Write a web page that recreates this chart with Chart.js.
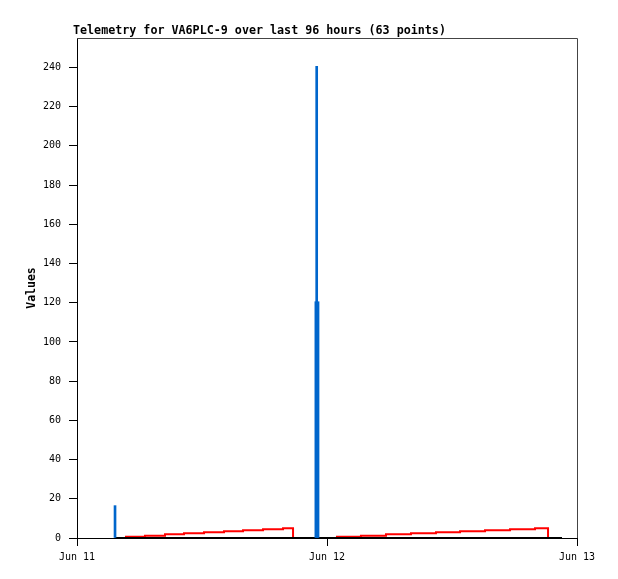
<!DOCTYPE html>
<html>
<head>
<meta charset="utf-8">
<title>Telemetry for VA6PLC-9</title>
<script src="https://cdn.jsdelivr.net/npm/chart.js@4"></script>
<style>
  body { margin: 0; background: #fff; }
  canvas { display: block; }
</style>
</head>
<body>
<canvas id="telemetry-graph" width="618" height="579"></canvas>
<script>
const CTX = document.getElementById('telemetry-graph');

// x values are hours since Jun 11 00:00
const chartTitle = 'Telemetry for VA6PLC-9 over last 96 hours (63 points)';
const xTickLabels = ['Jun 11', 'Jun 12', 'Jun 13'];
const yTickLabels = [0, 20, 40, 60, 80, 100, 120, 140, 160, 180, 200, 220, 240];

const blueTimes = [3.65, 22.93, 23.01, 23.14];
const blueValues = [16.5, 120.5, 240.5, 120.5];

const redTimes = [4.61, 6.53, 8.45, 10.27, 12.19, 14.11, 15.94, 17.86, 19.78, 20.74, 22.5,
  24.86, 27.26, 29.66, 32.06, 34.46, 36.77, 39.17, 41.57, 43.97, 45.22];
const redValues = [0.66, 1.17, 1.89, 2.4, 2.91, 3.42, 3.93, 4.44, 4.95, 0, null,
  0.66, 1.17, 1.89, 2.4, 2.91, 3.42, 3.93, 4.44, 4.95, 0];

const blackTimes = [3.65, 23.01, 46.56];
const blackValues = [0, 0, 0];

const toPoints = (times, values) => times.map((t, i) => ({ x: t, y: values[i] }));

const tickFont = { family: 'DejaVu Sans Mono', size: 10 };

// frame on top / right + left-aligned title
const framePlugin = {
  id: 'frame',
  afterDraw(chart) {
    const { ctx, chartArea } = chart;
    ctx.save();
    ctx.strokeStyle = '#444';
    ctx.lineWidth = 1;
    ctx.beginPath();
    ctx.moveTo(chartArea.left, chartArea.top + 0.5);
    ctx.lineTo(chartArea.right + 0.5, chartArea.top + 0.5);
    ctx.lineTo(chartArea.right + 0.5, chartArea.bottom);
    ctx.stroke();
    ctx.fillStyle = '#000';
    ctx.font = 'bold 11.7px "DejaVu Sans Mono"';
    ctx.textBaseline = 'alphabetic';
    ctx.fillText(chartTitle, 73, 34);
    ctx.restore();
  }
};

new Chart(CTX, {
  type: 'line',
  data: {
    datasets: [
      {
        type: 'bar',
        label: 'blue',
        data: toPoints(blueTimes, blueValues),
        backgroundColor: '#0066cc',
        barThickness: 2,
        order: 1
      },
      {
        label: 'black',
        data: toPoints(blackTimes, blackValues),
        borderColor: '#000',
        borderWidth: 2,
        pointRadius: 0,
        order: 2
      },
      {
        label: 'red',
        data: toPoints(redTimes, redValues),
        borderColor: '#ff0000',
        borderWidth: 2,
        pointRadius: 0,
        stepped: true,
        spanGaps: false,
        order: 3
      }
    ]
  },
  options: {
    responsive: false,
    animation: false,
    devicePixelRatio: 1,
    layout: { padding: { top: 38, right: 41, left: 0, bottom: 0 } },
    plugins: {
      legend: { display: false },
      tooltip: { enabled: false }
    },
    scales: {
      x: {
        type: 'linear',
        min: 0,
        max: 48,
        offset: false,
        afterFit: (s) => { s.height = 41; },
        afterBuildTicks: (s) => { s.ticks = xTickLabels.map((l, i) => ({ value: i * 24 })); },
        ticks: {
          color: '#000',
          font: tickFont,
          padding: 5,
          maxRotation: 0,
          autoSkip: false,
          callback: (v) => xTickLabels[Math.round(v / 24)]
        },
        grid: { offset: false, drawOnChartArea: false, drawTicks: true, tickLength: 8, color: '#000' },
        border: { color: '#000' }
      },
      y: {
        min: 0,
        max: 255,
        afterFit: (s) => { s.width = 77; },
        afterBuildTicks: (s) => { s.ticks = yTickLabels.map((v) => ({ value: v })); },
        ticks: { color: '#000', font: tickFont, padding: 8 },
        grid: { offset: false, drawOnChartArea: false, drawTicks: true, tickLength: 8, color: '#000' },
        border: { color: '#000' },
        title: {
          display: true,
          text: 'Values',
          color: '#000',
          font: { family: 'DejaVu Sans Mono', size: 11.5, weight: 'bold' },
          padding: { top: 25, bottom: 0 }
        }
      }
    }
  },
  plugins: [framePlugin]
});
</script>
</body>
</html>
